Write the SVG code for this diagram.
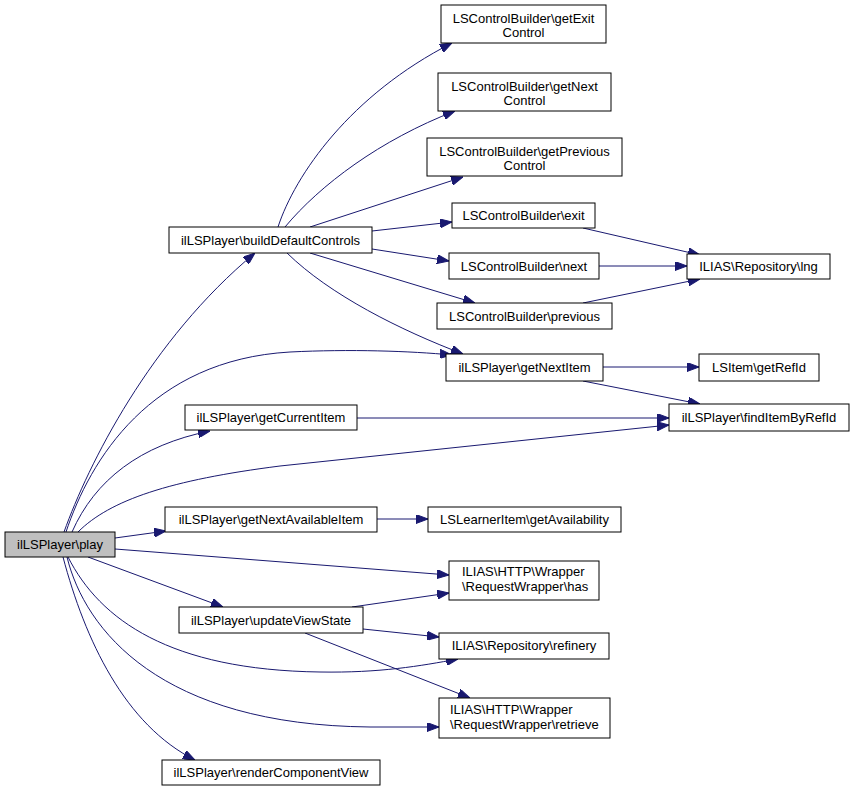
<svg xmlns="http://www.w3.org/2000/svg" width="855" height="791" viewBox="0 0 855 791">
<style>
.n rect{fill:#fff;stroke:#000;stroke-width:1}
.n text{font-family:"Liberation Sans",Arial,sans-serif;font-size:13px;fill:#000;text-anchor:middle}
.n text.l{text-anchor:start}
#edges path{fill:none;stroke:#191970;stroke-width:1;marker-end:url(#ah)}
</style>
<defs>
<marker id="ah" viewBox="0 0 12 9" refX="12" refY="4.5" markerWidth="12" markerHeight="9" markerUnits="userSpaceOnUse" orient="auto">
<path d="M0,0 L12,4.5 L0,9 z" fill="#191970" stroke="#191970" stroke-width="1"/>
</marker>
</defs>
<rect width="855" height="791" fill="#fff"/>
<g id="edges">
<path d="M64,532 C88,465 150,340 255,253"/>
<path d="M66,532 C90,460 150,360 290,352 C350,349 410,351 452,355"/>
<path d="M72,532 C95,480 140,445 210,431"/>
<path d="M78,532 C110,500 170,480 280,466 L669,425"/>
<path d="M115,538 L166,531"/>
<path d="M115,549 L449,575"/>
<path d="M88,557 L223,607"/>
<path d="M68,557 C100,620 170,670 320,672 C380,673 420,666 458,659"/>
<path d="M67,557 C85,630 160,725 370,727 L439,727"/>
<path d="M63,557 C85,640 125,725 195,760"/>
<path d="M278,227 C295,175 350,95 452,43"/>
<path d="M285,227 C320,185 380,140 455,111"/>
<path d="M310,227 L463,177"/>
<path d="M372,231 L452,222"/>
<path d="M372,249 L449,261"/>
<path d="M310,253 L475,303"/>
<path d="M287,253 C330,295 400,330 463,354"/>
<path d="M583,228 L700,255"/>
<path d="M599,266 L687,266"/>
<path d="M583,303 L700,279"/>
<path d="M603,367 L699,367"/>
<path d="M583,381 L700,404"/>
<path d="M357,418 L669,418"/>
<path d="M377,519 L428,519"/>
<path d="M352,607 L449,593"/>
<path d="M363,629 L439,637"/>
<path d="M305,633 L470,698"/>
</g>
<g id="play" class="n"><rect x="5" y="532" width="110" height="25" style="fill:#bfbfbf"/><text x="60" y="549">ilLSPlayer\play</text></g>
<g id="buildDefaultControls" class="n"><rect x="169" y="227" width="203" height="26"/><text x="270.5" y="244.5">ilLSPlayer\buildDefaultControls</text></g>
<g id="getExitControl" class="n"><rect x="441" y="5" width="165" height="38"/><text x="523.5" y="22.5">LSControlBuilder\getExit</text><text x="523.5" y="37">Control</text></g>
<g id="getNextControl" class="n"><rect x="438" y="73" width="173" height="38"/><text x="524.5" y="90.5">LSControlBuilder\getNext</text><text x="524.5" y="105">Control</text></g>
<g id="getPreviousControl" class="n"><rect x="427" y="138" width="195" height="38"/><text x="524.5" y="155.5">LSControlBuilder\getPrevious</text><text x="524.5" y="170">Control</text></g>
<g id="exit" class="n"><rect x="452" y="203" width="143" height="25"/><text x="523.5" y="220">LSControlBuilder\exit</text></g>
<g id="next" class="n"><rect x="449" y="253" width="150" height="26"/><text x="524" y="270.5">LSControlBuilder\next</text></g>
<g id="previous" class="n"><rect x="437" y="303" width="175" height="26"/><text x="524.5" y="320.5">LSControlBuilder\previous</text></g>
<g id="lng" class="n"><rect x="687" y="254" width="143" height="25"/><text x="758.5" y="270.5">ILIAS\Repository\lng</text></g>
<g id="getNextItem" class="n"><rect x="446" y="354" width="157" height="27"/><text x="524.5" y="372">ilLSPlayer\getNextItem</text></g>
<g id="getRefId" class="n"><rect x="699" y="354" width="120" height="27"/><text x="759" y="372">LSItem\getRefId</text></g>
<g id="findItemByRefId" class="n"><rect x="669" y="404" width="180" height="27"/><text x="759" y="422">ilLSPlayer\findItemByRefId</text></g>
<g id="getCurrentItem" class="n"><rect x="185" y="405" width="172" height="25"/><text x="271" y="422">ilLSPlayer\getCurrentItem</text></g>
<g id="getNextAvailableItem" class="n"><rect x="165" y="507" width="212" height="25"/><text x="271" y="524">ilLSPlayer\getNextAvailableItem</text></g>
<g id="getAvailability" class="n"><rect x="428" y="507" width="193" height="25"/><text x="524.5" y="524">LSLearnerItem\getAvailability</text></g>
<g id="has" class="n"><rect x="449" y="561" width="150" height="39"/><text class="l" x="462" y="576">ILIAS\HTTP\Wrapper</text><text class="l" x="462" y="591">\RequestWrapper\has</text></g>
<g id="updateViewState" class="n"><rect x="179" y="607" width="184" height="26"/><text x="271" y="624.5">ilLSPlayer\updateViewState</text></g>
<g id="refinery" class="n"><rect x="439" y="633" width="170" height="26"/><text x="524" y="650">ILIAS\Repository\refinery</text></g>
<g id="retrieve" class="n"><rect x="439" y="698" width="171" height="40"/><text class="l" x="450" y="713.5">ILIAS\HTTP\Wrapper</text><text class="l" x="450" y="728.5">\RequestWrapper\retrieve</text></g>
<g id="renderComponentView" class="n"><rect x="162" y="760" width="218" height="25"/><text x="271" y="777">ilLSPlayer\renderComponentView</text></g>
</svg>
